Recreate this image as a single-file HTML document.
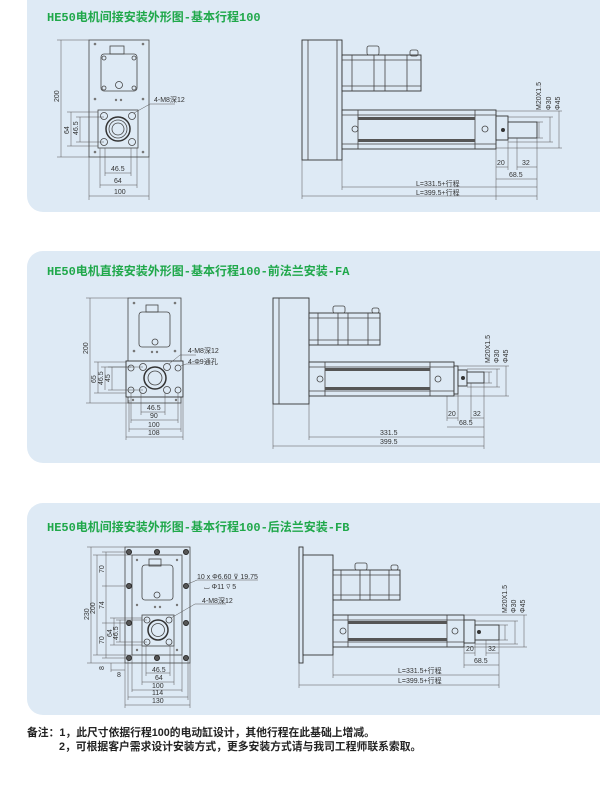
<!DOCTYPE html>
<html><head><meta charset="utf-8"><style>
html,body{margin:0;padding:0;background:#fff;}
svg{display:block;}
.t{font-family:"Liberation Mono","Noto Sans CJK SC",monospace;fill:#1fa84a;font-size:12px;font-weight:bold;}
.d{font-family:"Liberation Sans","Noto Sans CJK SC",sans-serif;fill:#333;font-size:7px;}
.n{font-family:"Liberation Sans","Noto Sans CJK SC",sans-serif;fill:#222;font-size:10.8px;font-weight:bold;}
.l{stroke:#444;stroke-width:0.8;fill:none;}
.th{stroke:#555;stroke-width:0.5;fill:none;}
.f{stroke:#333;stroke-width:0.9;fill:#dde9f4;}
.h{fill:#777;}
</style></head><body>
<svg width="600" height="803" viewBox="0 0 600 803" xmlns="http://www.w3.org/2000/svg">
<rect width="600" height="803" fill="#fff"/>
<rect x="27" y="-20" width="593" height="232" rx="16" fill="#deeaf5"/>
<rect x="27" y="251" width="593" height="212" rx="16" fill="#deeaf5"/>
<rect x="27" y="503" width="593" height="212" rx="16" fill="#deeaf5"/>

<!-- ========== PANEL 1 ========== -->
<text class="t" x="47" y="21">HE50电机间接安装外形图-基本行程100</text>
<rect class="l" x="89" y="40" width="60" height="117"/>
<g class="h"><circle cx="95" cy="44" r="1.3"/><circle cx="143" cy="44" r="1.3"/><circle cx="95" cy="99" r="1.3"/><circle cx="143" cy="99" r="1.3"/><circle cx="95" cy="152" r="1.3"/><circle cx="143" cy="152" r="1.3"/><circle cx="116" cy="100" r="1.2"/><circle cx="121" cy="100" r="1.2"/></g>
<rect class="l" x="101" y="54" width="36" height="37" rx="3"/>
<rect class="l" x="110" y="46" width="14" height="8"/>
<circle class="l" cx="119" cy="85" r="3.5"/>
<circle class="l" cx="104" cy="58" r="2"/><circle class="l" cx="134" cy="58" r="2"/><circle class="l" cx="104" cy="88" r="2"/><circle class="l" cx="134" cy="88" r="2"/>
<rect class="l" x="98" y="110" width="40" height="38"/>
<g class="l"><circle cx="104" cy="116" r="3.5"/><circle cx="132" cy="116" r="3.5"/><circle cx="104" cy="142" r="3.5"/><circle cx="132" cy="142" r="3.5"/></g>
<circle cx="118" cy="129" r="12" fill="none" stroke="#333" stroke-width="1.5"/><circle class="l" cx="118" cy="129" r="9"/><circle class="l" cx="118" cy="129" r="6"/>
<g class="th">
<path d="M61 40V157M57 40H89M57 157H89"/>
<path d="M71 112V146M67 112H98M67 146H98"/>
<path d="M80 117V142M76 117H104M76 142H104"/>
<path d="M89 157V200M149 157V200M89 196H149"/>
<path d="M100 148V188M137 148V188M100 185H137"/>
<path d="M105 148V176M131 148V176M105 173H131"/>
<path d="M134 113L150 104H175"/>
</g>
<text class="d" transform="translate(59 102) rotate(-90)">200</text>
<text class="d" transform="translate(69 134) rotate(-90)">64</text>
<text class="d" transform="translate(78 135) rotate(-90)">46.5</text>
<text class="d" x="111" y="171">46.5</text>
<text class="d" x="114" y="183">64</text>
<text class="d" x="114" y="194">100</text>
<text class="d" x="154" y="102">4-M8深12</text>
<!-- side -->
<rect class="f" x="302" y="40" width="40" height="120"/><path class="l" d="M308 40V160M337 40V160"/>
<rect class="f" x="342" y="55" width="79" height="36"/><path class="l" d="M352 55V91M374 55V91M385 55V91M407 55V91M342 60H421M342 86H421"/>
<rect class="l" x="367" y="46" width="12" height="9" rx="2"/><rect class="l" x="410" y="50" width="8" height="6" rx="2"/>
<rect class="f" x="342" y="110" width="154" height="39"/><path class="l" d="M358 110V149M475 110V149M342 115H496M342 144H496"/>
<rect x="358" y="117" width="117" height="3" fill="#555"/><rect x="358" y="139" width="117" height="3" fill="#555"/>
<circle class="l" cx="355" cy="129" r="3"/><circle class="l" cx="485" cy="129" r="3"/>
<rect class="f" x="496" y="116" width="12" height="24"/><rect class="f" x="508" y="122" width="29" height="16"/><circle cx="503" cy="130" r="2" fill="#333"/>
<g class="th">
<path d="M537 122H543M539 122V138M537 138H543M508 117H553M550 117V142M508 142H553M496 111H562M559 111V148M496 148H562"/>
<path d="M496 149V200M508 140V170M517 138V170M537 138V200M496 167H508M517 167H537M496 179H537M342 160V190M342 187H537M302 160V199M302 196H537"/>
</g>
<text class="d" transform="translate(541 110) rotate(-90)">M20X1.5</text>
<text class="d" transform="translate(551 110) rotate(-90)">Φ30</text>
<text class="d" transform="translate(560 110) rotate(-90)">Φ45</text>
<text class="d" x="497" y="165">20</text><text class="d" x="522" y="165">32</text><text class="d" x="509" y="177">68.5</text>
<text class="d" x="416" y="186">L=331.5+行程</text><text class="d" x="416" y="195">L=399.5+行程</text>

<!-- ========== PANEL 2 ========== -->
<text class="t" x="47" y="275">HE50电机直接安装外形图-基本行程100-前法兰安装-FA</text>
<rect class="l" x="128" y="298" width="53" height="105"/>
<rect class="f" x="126" y="361" width="57" height="36"/>
<g class="h"><circle cx="134" cy="303" r="1.3"/><circle cx="175" cy="303" r="1.3"/><circle cx="134" cy="351" r="1.3"/><circle cx="175" cy="351" r="1.3"/><circle cx="133" cy="400" r="1.2"/><circle cx="176" cy="400" r="1.2"/><circle cx="152" cy="352" r="1.2"/><circle cx="157" cy="352" r="1.2"/></g>
<rect class="l" x="139" y="312" width="31" height="35" rx="3"/><rect class="l" x="146" y="305" width="12" height="7"/><circle class="l" cx="155" cy="342" r="3"/>
<g class="l"><circle cx="131" cy="368" r="3"/><circle cx="178" cy="368" r="3"/><circle cx="131" cy="390" r="3"/><circle cx="178" cy="390" r="3"/><circle cx="143" cy="367" r="3.5"/><circle cx="167" cy="367" r="3.5"/><circle cx="143" cy="390" r="3.5"/><circle cx="167" cy="390" r="3.5"/></g>
<circle cx="155" cy="378" r="11" fill="none" stroke="#333" stroke-width="1.5"/><circle class="l" cx="155" cy="378" r="7"/>
<g class="th">
<path d="M90 298V403M86 298H128M86 403H128"/>
<path d="M98 362V393M94 362H126M94 393H126"/>
<path d="M105 367V390M101 367H131M105 367"/>
<path d="M112 367V390M108 367H143M108 390H143"/>
<path d="M126 397V440M183 397V440M126 437H183M129 400V432M181 400V432M129 429H181M131 393V423M178 393V423M131 420H178M141 393V415M165 393V415M141 412H165"/>
<path d="M169 364L180 355H196M181 366L186 364H200"/>
</g>
<text class="d" transform="translate(88 354) rotate(-90)">200</text>
<text class="d" transform="translate(96 383) rotate(-90)">65</text>
<text class="d" transform="translate(103 385) rotate(-90)">46.5</text>
<text class="d" transform="translate(110 382) rotate(-90)">45</text>
<text class="d" x="147" y="410">46.5</text><text class="d" x="150" y="418">90</text><text class="d" x="148" y="427">100</text><text class="d" x="148" y="435">108</text>
<text class="d" x="188" y="353">4-M8深12</text><text class="d" x="188" y="364">4-Φ9通孔</text>
<!-- side -->
<rect class="f" x="273" y="298" width="36" height="106"/><path class="l" d="M279 298V404"/>
<rect class="f" x="309" y="313" width="71" height="32"/><path class="l" d="M318 313V345M338 313V345M348 313V345M368 313V345M309 318H380M309 340H380"/>
<rect class="l" x="333" y="306" width="12" height="7" rx="2"/><rect class="l" x="372" y="308" width="7" height="5" rx="2"/>
<rect class="f" x="309" y="362" width="145" height="34"/><path class="l" d="M325 362V396M430 362V396M309 367H454M309 391H454"/>
<rect x="325" y="368" width="105" height="3" fill="#555"/><rect x="325" y="387" width="105" height="3" fill="#555"/>
<circle class="l" cx="320" cy="379" r="3"/><circle class="l" cx="438" cy="379" r="3"/>
<rect class="f" x="454" y="366" width="4" height="28"/>
<rect class="f" x="458" y="370" width="9" height="16"/><rect class="f" x="467" y="372" width="17" height="11"/><circle cx="463" cy="378" r="2" fill="#333"/>
<g class="th">
<path d="M484 372H492M489 372V383M484 383H492M467 369H500M497 369V387M467 387H500M458 366H509M506 366V396M454 396H509"/>
<path d="M447 396V421M458 386V421M471 383V421M484 383V449M447 418H458M471 418H484M447 427H484M309 404V440M309 437H484M273 404V449M273 446H484"/>
</g>
<text class="d" transform="translate(490 363) rotate(-90)">M20X1.5</text>
<text class="d" transform="translate(499 363) rotate(-90)">Φ30</text>
<text class="d" transform="translate(508 363) rotate(-90)">Φ45</text>
<text class="d" x="448" y="416">20</text><text class="d" x="473" y="416">32</text><text class="d" x="459" y="425">68.5</text>
<text class="d" x="380" y="435">331.5</text><text class="d" x="380" y="444">399.5</text>

<!-- ========== PANEL 3 ========== -->
<text class="t" x="47" y="531">HE50电机间接安装外形图-基本行程100-后法兰安装-FB</text>
<rect class="l" x="125" y="547" width="65" height="116"/><rect class="l" x="132" y="555" width="50" height="100"/>
<g fill="#555" stroke="#222" stroke-width="0.8">
<circle cx="129" cy="552" r="2.6"/><circle cx="157" cy="552" r="2.6"/><circle cx="186" cy="552" r="2.6"/>
<circle cx="129" cy="586" r="2.6"/><circle cx="186" cy="586" r="2.6"/>
<circle cx="129" cy="623" r="2.6"/><circle cx="186" cy="623" r="2.6"/>
<circle cx="129" cy="658" r="2.6"/><circle cx="157" cy="658" r="2.6"/><circle cx="186" cy="658" r="2.6"/>
</g>
<g class="h"><circle cx="137" cy="560" r="1.2"/><circle cx="177" cy="560" r="1.2"/><circle cx="137" cy="605" r="1.2"/><circle cx="177" cy="605" r="1.2"/><circle cx="155" cy="607" r="1.2"/><circle cx="160" cy="607" r="1.2"/><circle cx="137" cy="650" r="1.2"/><circle cx="177" cy="650" r="1.2"/></g>
<rect class="l" x="142" y="565" width="31" height="35" rx="3"/><rect class="l" x="149" y="559" width="12" height="7"/><circle class="l" cx="157" cy="595" r="3"/>
<rect class="l" x="142" y="615" width="32" height="31"/>
<g class="l"><circle cx="147" cy="620" r="3"/><circle cx="169" cy="620" r="3"/><circle cx="147" cy="642" r="3"/><circle cx="169" cy="642" r="3"/></g>
<circle cx="158" cy="630" r="10" fill="none" stroke="#333" stroke-width="1.5"/><circle class="l" cx="158" cy="630" r="6.5"/>
<g class="th">
<path d="M91 547V663M87 547H125M87 663H125"/>
<path d="M97 555V655M93 555H132M93 655H132"/>
<path d="M106 552V658M102 552H129M102 586H129M102 623H129M102 658H129"/>
<path d="M114 618V645M110 618H142M110 645H142"/>
<path d="M120 620V642M116 620H147M116 642H147"/>
<path d="M111 663V672M111 670H125"/>
<path d="M125 663V708M190 663V708M125 705H190M128 660V700M188 660V700M128 697H188M132 655V692M182 655V692M132 690H182M142 646V685M174 646V685M142 682H174M146 646V676M170 646V676M146 673H170"/>
<path d="M188 584L197 580H258M171 618L195 604H226"/>
</g>
<text class="d" transform="translate(89 620) rotate(-90)">230</text>
<text class="d" transform="translate(95 614) rotate(-90)">200</text>
<text class="d" transform="translate(104 573) rotate(-90)">70</text>
<text class="d" transform="translate(104 609) rotate(-90)">74</text>
<text class="d" transform="translate(104 644) rotate(-90)">70</text>
<text class="d" transform="translate(112 637) rotate(-90)">64</text>
<text class="d" transform="translate(118 640) rotate(-90)">46.5</text>
<text class="d" transform="translate(104 670) rotate(-90)">8</text>
<text class="d" x="117" y="677">8</text>
<text class="d" x="152" y="672">46.5</text><text class="d" x="155" y="680">64</text><text class="d" x="152" y="688">100</text><text class="d" x="152" y="695">114</text><text class="d" x="152" y="703">130</text>
<text class="d" x="197" y="579">10 x  Φ6.60  ⊽ 19.75</text>
<text class="d" x="204" y="589">⌴ Φ11  ⊽ 5</text>
<text class="d" x="202" y="603">4-M8深12</text>
<!-- side -->
<rect class="f" x="299" y="547" width="4" height="116"/>
<rect class="f" x="303" y="555" width="30" height="100"/>
<rect class="f" x="333" y="570" width="67" height="30"/><path class="l" d="M341 570V600M360 570V600M370 570V600M389 570V600M333 575H400M333 595H400"/>
<rect class="l" x="355" y="563" width="12" height="7" rx="2"/><rect class="l" x="391" y="565" width="7" height="5" rx="2"/>
<rect class="f" x="333" y="615" width="131" height="32"/><path class="l" d="M348 615V647M447 615V647M333 620H464M333 642H464"/>
<rect x="348" y="621" width="99" height="3" fill="#555"/><rect x="348" y="638" width="99" height="3" fill="#555"/>
<circle class="l" cx="343" cy="631" r="3"/><circle class="l" cx="455" cy="631" r="3"/>
<rect class="f" x="464" y="620" width="11" height="23"/><rect class="f" x="475" y="625" width="24" height="15"/><circle cx="479" cy="632" r="2" fill="#333"/>
<g class="th">
<path d="M499 625H508M505 625V640M499 640H508M475 621H518M515 621V644M475 644H518M464 615H527M524 615V647M464 647H527"/>
<path d="M464 647V668M475 643V656M486 640V656M499 640V688M464 653H475M486 653H499M464 665H499M333 655V678M333 675H499M299 663V688M299 685H499"/>
</g>
<text class="d" transform="translate(507 613) rotate(-90)">M20X1.5</text>
<text class="d" transform="translate(516 613) rotate(-90)">Φ30</text>
<text class="d" transform="translate(525 613) rotate(-90)">Φ45</text>
<text class="d" x="466" y="651">20</text><text class="d" x="488" y="651">32</text><text class="d" x="474" y="663">68.5</text>
<text class="d" x="398" y="673">L=331.5+行程</text><text class="d" x="398" y="683">L=399.5+行程</text>

<!-- notes -->
<text class="n" x="27" y="736">备注：1，此尺寸依据行程100的电动缸设计，其他行程在此基础上增减。</text>
<text class="n" x="59" y="750">2，可根据客户需求设计安装方式，更多安装方式请与我司工程师联系索取。</text>
</svg>
</body></html>
